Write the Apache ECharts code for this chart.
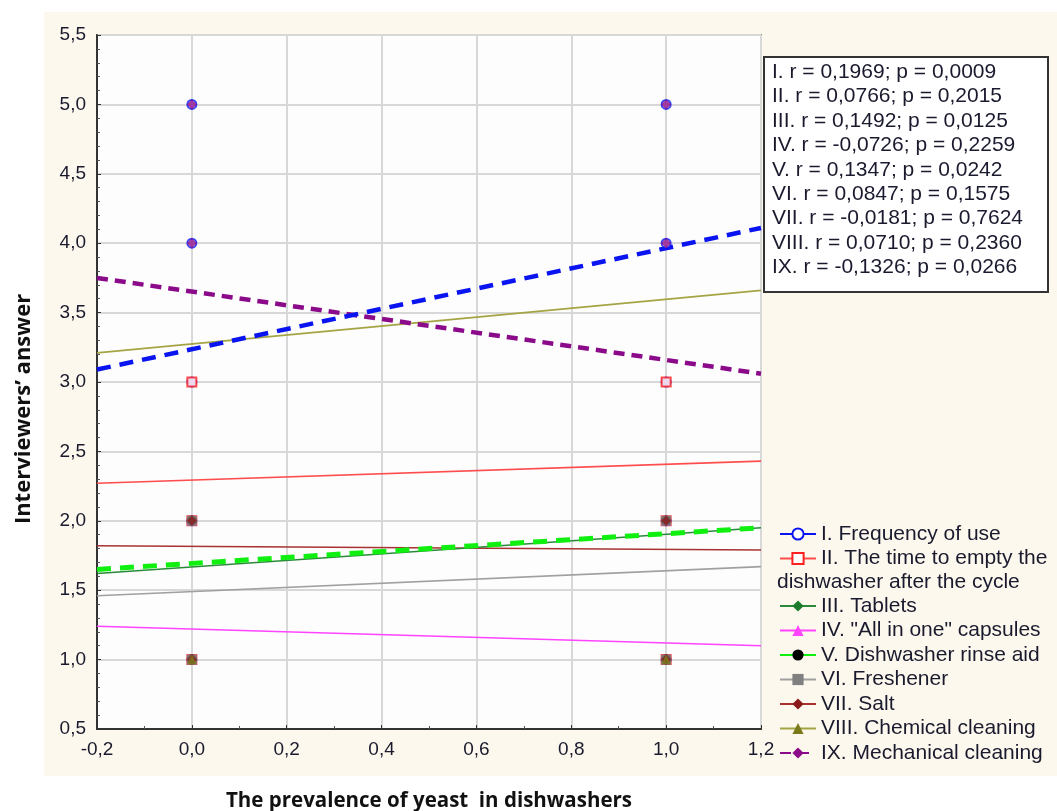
<!DOCTYPE html>
<html>
<head>
<meta charset="utf-8">
<script src="https://cdn.jsdelivr.net/npm/echarts@6/dist/echarts.min.js"></script>
<style>
html,body{margin:0;padding:0;background:#fff;}
#chart{width:1057px;height:811px;}
</style>
</head>
<body>
<div id="chart"></div>
<script>
// ---- data ----
const seriesNames = [
  'I. Frequency of use',
  'II. The time to empty the dishwasher after the cycle',
  'III. Tablets',
  'IV. "All in one" capsules',
  'V. Dishwasher rinse aid',
  'VI. Freshener',
  'VII. Salt',
  'VIII. Chemical cleaning',
  'IX. Mechanical cleaning'
];
const lineX = [-0.2, 1.2];
// regression line values at x=-0.2 and x=1.2
const lineI    = [3.09, 4.11];
const lineII   = [2.27, 2.43];
const lineIII  = [1.62, 1.95];
const lineIV   = [1.24, 1.10];
const lineV    = [1.65, 1.95];
const lineVI   = [1.46, 1.67];
const lineVII  = [1.82, 1.79];
const lineVIII = [3.21, 3.66];
const lineIX   = [3.75, 3.06];
// observed answer levels (at x=0 and x=1)
const pointX = [0, 1];
const levelsI    = [1, 2, 3, 4, 5];
const levelsII   = [1, 2, 3];
const levelsIII  = [1, 2];
const levelsIV   = [1, 2];
const levelsV    = [1, 2];
const levelsVI   = [1, 2];
const levelsVII  = [1, 2];
const levelsVIII = [1];
const levelsIX   = [3, 4, 5];
const statLines = [
  'I. r = 0,1969; p = 0,0009',
  'II. r = 0,0766; p = 0,2015',
  'III. r = 0,1492; p = 0,0125',
  'IV. r = -0,0726; p = 0,2259',
  'V. r = 0,1347; p = 0,0242',
  'VI. r = 0,0847; p = 0,1575',
  'VII. r = -0,0181; p = 0,7624',
  'VIII. r = 0,0710; p = 0,2360',
  'IX. r = -0,1326; p = 0,0266'
];
const legendWrapFirst = 'II. The time to empty the';
const legendWrapSecond = 'dishwasher after the cycle';
const xTitle = 'The prevalence of yeast  in dishwashers';
const yTitle = 'Interviewers\u2019 answer';

// ---- styles ----
const styles = [
  {color:'#0a14f0', sym:'emptyCircle', width:4.5, type:[14,9], symColor:'#0a14f0'},
  {color:'#ff4d4d', sym:'emptyRect', width:1.6, type:'solid', symColor:'#ff2020'},
  {color:'#2a8a3a', sym:'diamond', width:1.6, type:'solid', symColor:'#1d7a2d'},
  {color:'#ff44ff', sym:'triangle', width:1.6, type:'solid', symColor:'#ff44ff'},
  {color:'#10f010', sym:'circle', width:5, type:[14,9], symColor:'#000000'},
  {color:'#a0a0a0', sym:'rect', width:1.6, type:'solid', symColor:'#808080'},
  {color:'#a83232', sym:'diamond', width:1.6, type:'solid', symColor:'#8b1a1a'},
  {color:'#a4a444', sym:'triangle', width:1.6, type:'solid', symColor:'#7a7a1a'},
  {color:'#8a0a8a', sym:'diamond', width:4.5, type:[11,7], symColor:'#8a0a8a'}
];
const lines = [lineI, lineII, lineIII, lineIV, lineV, lineVI, lineVII, lineVIII, lineIX];
const levels = [levelsI, levelsII, levelsIII, levelsIV, levelsV, levelsVI, levelsVII, levelsVIII, levelsIX];
const lineZ = [8, 3, 4, 3, 6, 3, 3, 5, 7];
const scatterOrder = [0, 8, 1, 2, 3, 4, 5, 6, 7];

const series = [];
seriesNames.forEach((name, i) => {
  const s = styles[i];
  series.push({
    type:'line', name:name,
    data: lineX.map((x, k) => [x, lines[i][k]]),
    showSymbol:false, symbol:s.sym, symbolSize:9,
    lineStyle:{color:s.color, width:s.width, type:s.type},
    itemStyle:{color:s.symColor, borderColor:s.symColor},
    z:lineZ[i], silent:true, animation:false
  });
});
scatterOrder.forEach((i, k) => {
  const s = styles[i];
  const data = [];
  pointX.forEach(x => levels[i].forEach(v => data.push([x, v])));
  const empty = s.sym.indexOf('empty') === 0;
  series.push({
    type:'scatter', name:seriesNames[i], data:data,
    symbol:s.sym, symbolSize:empty ? 9 : 10,
    itemStyle:{color:s.symColor, borderColor:s.symColor, borderWidth:empty ? 2 : 0},
    z:10 + k, animation:false
  });
});

const statText = statLines.join('\n');
const labelFont = '"Liberation Sans", Arial, sans-serif';
const titleFont = '"Open Sans", sans-serif';
const legendCommon = {
  orient:'vertical', left:779, padding:0,
  itemWidth:36, itemHeight:14, itemGap:0.5,
  formatter:name => name.indexOf('II. The time') === 0 ? legendWrapFirst : name,
  textStyle:{fontFamily:labelFont, fontSize:21, color:'#1a1a2e', lineHeight:24},
  selectedMode:false
};

const chart = echarts.init(document.getElementById('chart'));
chart.setOption({
  animation:false,
  backgroundColor:'#ffffff',
  graphic:[
    {type:'rect', z:-10, shape:{x:44, y:12, width:1013, height:764}, style:{fill:'#fdf8ed'}, silent:true},
    {type:'rect', z:1, shape:{x:764, y:57, width:284, height:235}, style:{fill:'#ffffff', stroke:'#333', lineWidth:2}},
    {type:'text', z:2, left:772, top:60, style:{text:statText, font:'21px ' + labelFont, fill:'#1a1a2e', lineHeight:24.4}},
    {type:'text', z:2, left:777, top:570, style:{text:legendWrapSecond, font:'21px ' + labelFont, fill:'#1a1a2e', lineHeight:24}}
  ],
  grid:{left:97, right:296, top:35, bottom:82, outerBoundsMode:'none', containLabel:false,
    show:true, backgroundColor:'#fdfdfd', borderColor:'#333', borderWidth:1.5},
  xAxis:{
    type:'value', min:-0.2, max:1.2, interval:0.2,
    name:xTitle, nameLocation:'middle', nameGap:62,
    nameTextStyle:{fontFamily:titleFont, fontWeight:'bold', fontSize:20.5, color:'#111'},
    axisLine:{show:true, onZero:false, lineStyle:{color:'#333', width:2}},
    axisTick:{show:true, inside:true, length:4, lineStyle:{color:'#333'}},
    minorTick:{show:true, splitNumber:2, length:3, lineStyle:{color:'#555'}},
    splitLine:{show:true, lineStyle:{color:'#d8d8d8', width:2}},
    axisLabel:{fontFamily:labelFont, fontSize:19, color:'#1a1a2e', margin:11,
      formatter:v => v.toFixed(1).replace('.', ',')}
  },
  yAxis:{
    type:'value', min:0.5, max:5.5, interval:0.5,
    name:yTitle, nameLocation:'middle', nameGap:62, nameRotate:90,
    nameTextStyle:{fontFamily:titleFont, fontWeight:'bold', fontSize:22, color:'#111', padding:[0, 54, 0, 0]},
    axisLine:{show:true, onZero:false, lineStyle:{color:'#333', width:2}},
    axisTick:{show:true, inside:true, length:4, lineStyle:{color:'#333'}},
    minorTick:{show:true, splitNumber:5, length:3, lineStyle:{color:'#555'}},
    splitLine:{show:true, lineStyle:{color:'#d8d8d8', width:2}},
    axisLabel:{fontFamily:labelFont, fontSize:19, color:'#1a1a2e', margin:11,
      formatter:v => v.toFixed(1).replace('.', ',')}
  },
  legend:[
    Object.assign({}, legendCommon, {top:522, data:seriesNames.slice(0, 2)}),
    Object.assign({}, legendCommon, {top:594, data:seriesNames.slice(2)})
  ],
  series:series
});
</script>
</body>
</html>
